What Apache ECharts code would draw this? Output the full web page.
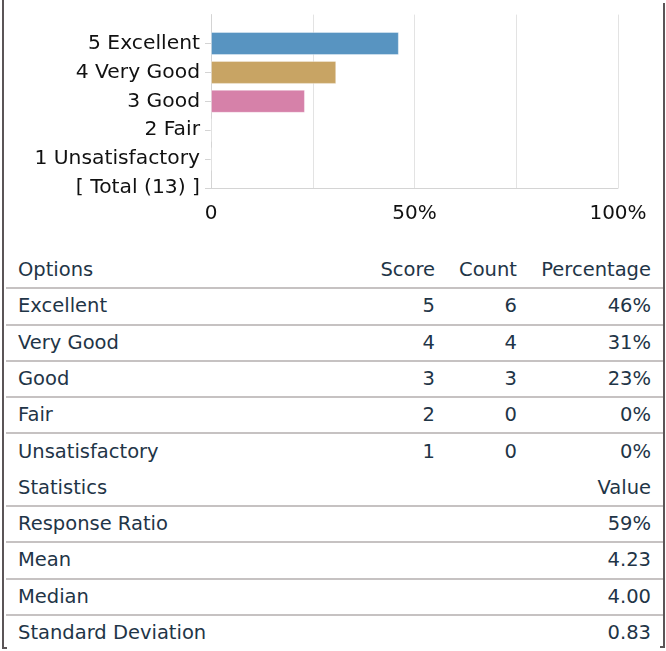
<!DOCTYPE html>
<html>
<head>
<meta charset="utf-8">
<script src="https://cdn.jsdelivr.net/npm/echarts@6/dist/echarts.min.js"></script>
<style>
  html, body { margin: 0; padding: 0; background: #ffffff; }
  body { width: 666px; height: 651px; position: relative; overflow: hidden; font-family: 'DejaVu Sans', 'Liberation Sans', Arial, sans-serif; }
  #chart { position: absolute; left: 0; top: 0; width: 666px; height: 240px; }
  .frameL { position: absolute; left: 2px; top: 0; width: 2px; height: 649px; background: #5b5557; }
  .frameR { position: absolute; left: 663px; top: 3px; width: 2px; height: 645px; background: #5b5557; }
  .hookL { position: absolute; left: 2px; top: 647px; width: 5px; height: 2px; background: #5b5557; }
  .hookR { position: absolute; left: 660px; top: 646px; width: 5px; height: 2px; background: #5b5557; }
  .row { position: absolute; left: 6px; width: 657px; color: #1f3547; font-size: 19.5px; box-sizing: border-box; }
  .row.line { border-bottom: 2px solid #c6c2c2; }
  .cell { position: absolute; top: 0; white-space: nowrap; }
</style>
</head>
<body>
<div id="chart"></div>
<div id="table"></div>
<div class="frameL"></div>
<div class="frameR"></div>
<div class="hookL"></div>
<div class="hookR"></div>
<script>
// ---- data ----
const options = ['Excellent', 'Very Good', 'Good', 'Fair', 'Unsatisfactory'];
const scores = [5, 4, 3, 2, 1];
const counts = [6, 4, 3, 0, 0];
const percentages = ['46%', '31%', '23%', '0%', '0%'];
const total = 13;
const xTickLabels = { 0: '0', 50: '50%', 100: '100%' };
const statNames = ['Response Ratio', 'Mean', 'Median', 'Standard Deviation'];
const statValues = ['59%', '4.23', '4.00', '0.83'];
const barColors = ['#5894c1', '#c8a464', '#d681a9', '#8fb76a', '#a08bc7'];

// ---- chart ----
// category axis bottom-to-top: Total, 1..5, then an empty slot at the top
const cats = ['[ Total (' + total + ') ]'];
const vals = [null];
for (let i = options.length - 1; i >= 0; i--) {
  cats.push(scores[i] + ' ' + options[i]);
  vals.push({ value: counts[i] / total * 100, itemStyle: { color: barColors[i] } });
}
cats.push('');
vals.push(null);

const chart = echarts.init(document.getElementById('chart'), null, { renderer: 'canvas' });
chart.setOption({
  animation: false,
  textStyle: { fontFamily: 'DejaVu Sans' },
  grid: { left: 211, right: 48, top: 14.6, bottom: 52, containLabel: false },
  xAxis: {
    type: 'value', min: 0, max: 100, interval: 25,
    axisLine: { show: true, lineStyle: { color: '#d4d4d4', width: 1 } },
    axisTick: { show: false },
    splitLine: { show: true, lineStyle: { color: '#e3e3e3', width: 1 } },
    axisLabel: {
      margin: 16, fontSize: 20, color: '#111', fontFamily: 'DejaVu Sans',
      formatter: v => (xTickLabels[v] !== undefined ? xTickLabels[v] : '')
    }
  },
  yAxis: {
    type: 'category', data: cats, boundaryGap: false,
    axisLine: { show: true, lineStyle: { color: '#d4d4d4', width: 1 } },
    axisTick: { show: true, length: 6, interval: (i) => i < cats.length - 1, lineStyle: { color: '#d4d4d4' } },
    splitLine: { show: false },
    axisLabel: { margin: 11, fontSize: 20.3, color: '#111', fontFamily: 'DejaVu Sans', interval: 0 }
  },
  series: [{
    type: 'bar', data: vals, barWidth: 23,
    itemStyle: { borderColor: 'rgba(255,255,255,0.35)', borderWidth: 1 }
  }]
});

// ---- table ----
const table = document.getElementById('table');
const top0 = 252, rh = 36.3;
function addRow(idx, cells, line) {
  const r = document.createElement('div');
  r.className = 'row' + (line ? ' line' : '');
  r.style.top = (top0 + idx * rh) + 'px';
  r.style.height = (rh + (line ? 1 : 0)) + 'px';
  r.style.lineHeight = rh + 'px';
  cells.forEach(c => {
    const d = document.createElement('div');
    d.className = 'cell';
    d.textContent = c.text;
    if (c.left !== undefined) d.style.left = (c.left - 6) + 'px';
    if (c.right !== undefined) d.style.right = (663 - c.right) + 'px';
    r.appendChild(d);
  });
  table.appendChild(r);
}
addRow(0, [{ text: 'Options', left: 18 }, { text: 'Score', right: 435 }, { text: 'Count', right: 517 }, { text: 'Percentage', right: 651 }], true);
options.forEach((o, i) => {
  addRow(i + 1, [{ text: o, left: 18 }, { text: String(scores[i]), right: 435 }, { text: String(counts[i]), right: 517 }, { text: percentages[i], right: 651 }], i < options.length - 1);
});
addRow(6, [{ text: 'Statistics', left: 18 }, { text: 'Value', right: 651 }], true);
statNames.forEach((s, i) => {
  addRow(7 + i, [{ text: s, left: 18 }, { text: statValues[i], right: 651 }], i < statNames.length - 1);
});
</script>
</body>
</html>
